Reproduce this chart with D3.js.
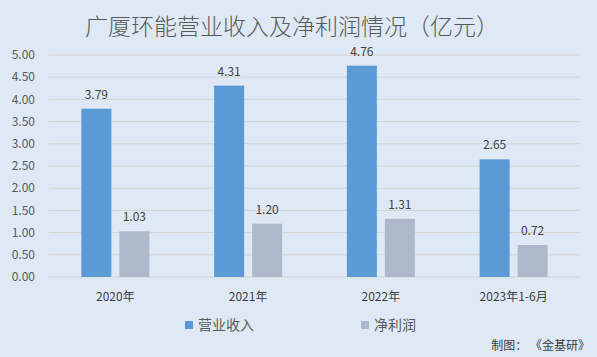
<!DOCTYPE html>
<html><head><meta charset="utf-8">
<script src="https://cdn.jsdelivr.net/npm/d3@7"></script>
<style>body{margin:0;background:#DEE9F5;}svg{display:block;}</style>
</head><body>
<script>
const categories = ["2020年","2021年","2022年","2023年1-6月"];
const revenue = [3.79, 4.31, 4.76, 2.65];
const profit = [1.03, 1.20, 1.31, 0.72];
const seriesNames = ["营业收入","净利润"];
const yTicks = [0,0.5,1,1.5,2,2.5,3,3.5,4,4.5,5];
const colors = ["#5B9BD5","#ADB9CA"];

const W=597,H=357;
const font = "'Microsoft YaHei','Noto Sans CJK SC',sans-serif";
const svg = d3.select("body").append("svg").attr("width",W).attr("height",H)
  .style("background","#DEE9F5").style("font-family",font);

const x = d3.scaleBand().domain(categories).range([49,580]);
const y = d3.scaleLinear().domain([0,5]).range([277,55]);

svg.append("g").selectAll("line").data(yTicks).join("line")
  .attr("x1",49).attr("x2",580).attr("y1",d=>y(d)).attr("y2",d=>y(d))
  .attr("stroke","#D3D3D3").attr("stroke-width",1);

svg.append("g").selectAll("text").data(yTicks).join("text")
  .attr("x",35).attr("y",d=>y(d)).attr("dy","0.35em").attr("text-anchor","end")
  .attr("font-size",12).attr("fill","#595959").text(d=>d3.format(".2f")(d));

const data = categories.map((c,i)=>({c, v:[revenue[i],profit[i]]}));
const bw = 30, gap = 8;
const g = svg.append("g");
data.forEach(d=>{
  const cx = x(d.c)+x.bandwidth()/2;
  d.v.forEach((v,j)=>{
    const x0 = j===0 ? cx-gap/2-bw : cx+gap/2;
    g.append("rect").attr("x",x0).attr("y",y(v)).attr("width",bw).attr("height",y(0)-y(v)).attr("fill",colors[j]);
    g.append("text").attr("x",x0+bw/2).attr("y",y(v)-10).attr("text-anchor","middle")
      .attr("font-size",12).attr("fill","#404040").text(v.toFixed(2));
  });
});

svg.append("g").selectAll("text").data(categories).join("text")
  .attr("x",d=>x(d)+x.bandwidth()/2).attr("y",301).attr("text-anchor","middle")
  .attr("font-size",12).attr("fill","#404040").text(d=>d);

svg.append("text").attr("x",292).attr("y",35).attr("text-anchor","middle")
  .attr("font-size",23).attr("font-weight",300).attr("fill","#595959").text("广厦环能营业收入及净利润情况（亿元）");

const legX=[185,361];
seriesNames.forEach((n,i)=>{
  svg.append("rect").attr("x",legX[i]).attr("y",321).attr("width",8).attr("height",8).attr("fill",colors[i]);
  svg.append("text").attr("x",legX[i]+13).attr("y",330).attr("font-size",14).attr("fill","#595959").text(n);
});

svg.append("text").attr("x",590).attr("y",350).attr("text-anchor","end")
  .attr("font-size",12).attr("fill","#404040").text("制图：\u00A0《金基研》");
</script>
</body></html>
